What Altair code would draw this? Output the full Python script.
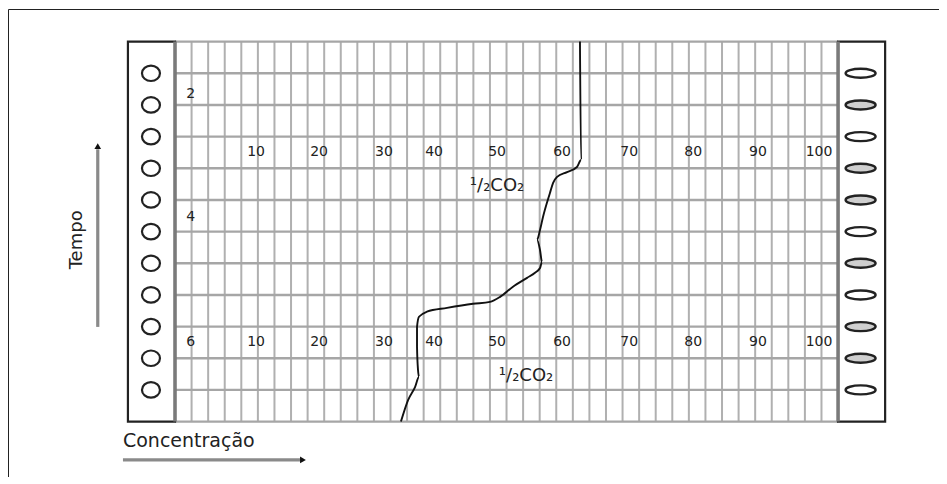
import altair as alt
import pandas as pd

# ---------------- data (grid units: columns across, rows downward) ----------------
grid_cols = list(range(0, 41))          # vertical grid lines
grid_rows = list(range(0, 13))          # horizontal grid lines

conc_labels = ["10", "20", "30", "40", "50", "60", "70", "80", "90", "100"]
conc_label_x = [4.89, 8.69, 12.61, 15.63, 19.43, 23.35, 27.40, 31.26, 35.17, 38.85]
conc_label_rows = [3.5, 9.5]

time_labels = ["2", "4", "6"]
time_label_y = [1.65, 5.55, 9.5]
time_label_x = [0.95, 0.95, 0.95]

co2_text = ["¹/₂CO₂", "¹/₂CO₂"]
co2_x = [19.43, 21.18]
co2_y = [4.56, 10.56]

curve_x = [24.43, 24.50, 24.25, 23.65, 23.05, 22.81, 22.62, 22.20, 22.02, 21.84,
           22.02, 22.14, 22.02, 21.72, 21.24, 20.39, 19.61, 19.00, 17.98, 16.41,
           15.20, 14.72, 14.60, 14.60, 14.66, 14.72, 14.48, 14.06, 13.63]
curve_y = [0.00, 3.74, 3.96, 4.12, 4.27, 4.46, 4.78, 5.54, 5.95, 6.26,
           6.58, 6.96, 7.15, 7.30, 7.46, 7.74, 8.06, 8.22, 8.28, 8.41,
           8.53, 8.69, 9.01, 9.64, 10.37, 10.59, 10.91, 11.32, 12.00]

marker_rows = list(range(1, 12))
left_marker_x = -1.45
right_marker_x = 41.36
right_marker_fill = ["#ffffff", "#cfcfcf", "#ffffff", "#cfcfcf", "#cfcfcf", "#ffffff",
                     "#cfcfcf", "#ffffff", "#cfcfcf", "#cfcfcf", "#ffffff"]

box_x = [-2.84, 40.0]
box_x2 = [0.0, 42.84]

XMIN, XMAX = -10.075, 46.09
YMIN, YMAX = -1.03, 13.75

xs = alt.Scale(domain=[XMIN, XMAX], nice=False, zero=False)
ys = alt.Scale(domain=[YMIN, YMAX], nice=False, zero=False, reverse=True)


def X(f):
    return alt.X(f, type="quantitative", scale=xs, axis=None)


def Y(f):
    return alt.Y(f, type="quantitative", scale=ys, axis=None)


INK = "#222222"
FONT = "DejaVu Sans"

# ---------------- layers ----------------
vdf = pd.DataFrame({"x": grid_cols, "y": 0, "y2": 12})
vlines = alt.Chart(vdf).mark_rule(color="#b0b0b0", strokeWidth=2).encode(
    x=X("x"), y=Y("y"), y2="y2")

hdf = pd.DataFrame({"y": grid_rows, "x": 0, "x2": 40})
hlines = alt.Chart(hdf).mark_rule(color="#a6a6a6", strokeWidth=2.4).encode(
    y=Y("y"), x=X("x"), x2="x2")

bdf = pd.DataFrame({"x": box_x, "x2": box_x2, "y": 0, "y2": 12})
boxes = alt.Chart(bdf).mark_rect(fill="white", stroke=INK, strokeWidth=2.2).encode(
    x=X("x"), x2="x2", y=Y("y"), y2="y2")

edf = pd.DataFrame({"x": [0, 40], "y": 0, "y2": 12})
edges = alt.Chart(edf).mark_rule(color="#7a7a7a", strokeWidth=3.5).encode(
    x=X("x"), y=Y("y"), y2="y2")

circle_path = "M-1,0 A1,0.86 0 1,1 1,0 A1,0.86 0 1,1 -1,0 Z"
ldf = pd.DataFrame({"x": left_marker_x, "y": marker_rows})
left_marks = alt.Chart(ldf).mark_point(
    shape=circle_path, size=324, filled=False, stroke=INK, strokeWidth=2.2, opacity=1
).encode(x=X("x"), y=Y("y"))

ellipse_path = "M-1,0 A1,0.3 0 1,1 1,0 A1,0.3 0 1,1 -1,0 Z"
rdf = pd.DataFrame({"x": right_marker_x, "y": marker_rows, "f": right_marker_fill})
right_marks = alt.Chart(rdf).mark_point(
    shape=ellipse_path, size=900, filled=True, stroke=INK, strokeWidth=2.4, opacity=1
).encode(x=X("x"), y=Y("y"), fill=alt.Fill("f:N", scale=None))

cl = []
for r in conc_label_rows:
    for t, x in zip(conc_labels, conc_label_x):
        cl.append({"t": t, "x": x, "y": r})
cdf = pd.DataFrame(cl)
conc_text = alt.Chart(cdf).mark_text(font=FONT, fontSize=14, color=INK, baseline="middle").encode(
    x=X("x"), y=Y("y"), text="t:N")

tdf = pd.DataFrame({"t": time_labels, "x": time_label_x, "y": time_label_y})
time_text = alt.Chart(tdf).mark_text(font=FONT, fontSize=14, color=INK, baseline="middle").encode(
    x=X("x"), y=Y("y"), text="t:N")

odf = pd.DataFrame({"t": co2_text, "x": co2_x, "y": co2_y})
co2_lab = alt.Chart(odf).mark_text(font=FONT, fontSize=18, color=INK, baseline="middle").encode(
    x=X("x"), y=Y("y"), text="t:N")

kdf = pd.DataFrame({"x": curve_x, "y": curve_y, "i": list(range(len(curve_x)))})
curve = alt.Chart(kdf).mark_line(color="#111111", strokeWidth=1.9, interpolate="monotone").encode(
    x=X("x"), y=Y("y"), order="i:Q")

# axis-title arrows
tempo_arrow = alt.Chart(pd.DataFrame({"x": [-4.66], "y": [9.01], "y2": [3.4]})).mark_rule(
    color="#8a8a8a", strokeWidth=3.2).encode(x=X("x"), y=Y("y"), y2="y2")
tempo_head = alt.Chart(pd.DataFrame({"x": [-4.66], "y": [3.3]})).mark_point(
    shape="triangle-up", size=45, filled=True, color="#111111", opacity=1).encode(x=X("x"), y=Y("y"))
tempo_lab = alt.Chart(pd.DataFrame({"t": ["Tempo"], "x": [-5.91], "y": [6.26]})).mark_text(
    font=FONT, fontSize=18, color=INK, angle=270, baseline="middle").encode(x=X("x"), y=Y("y"), text="t:N")

conc_arrow = alt.Chart(pd.DataFrame({"x": [-3.14], "x2": [7.6], "y": [13.21]})).mark_rule(
    color="#8a8a8a", strokeWidth=3.2).encode(x=X("x"), x2="x2", y=Y("y"))
conc_head = alt.Chart(pd.DataFrame({"x": [7.72], "y": [13.21]})).mark_point(
    shape="triangle-right", size=45, filled=True, color="#111111", opacity=1).encode(x=X("x"), y=Y("y"))
conc_lab = alt.Chart(pd.DataFrame({"t": ["Concentração"], "x": [-3.14], "y": [12.61]})).mark_text(
    font=FONT, fontSize=19, color=INK, align="left", baseline="middle").encode(x=X("x"), y=Y("y"), text="t:N")

chart = alt.layer(
    vlines, hlines, boxes, edges, left_marks, right_marks,
    conc_text, time_text, co2_lab, curve,
    tempo_arrow, tempo_head, tempo_lab, conc_arrow, conc_head, conc_lab,
).properties(
    width=931, height=468,
    autosize=alt.AutoSizeParams(type="none"),
    padding={"left": 0, "top": 1, "right": 0, "bottom": 0},
).configure_view(stroke="#222222", strokeWidth=1)

chart.save("out.html", embed_options={"renderer": "svg", "actions": False})
